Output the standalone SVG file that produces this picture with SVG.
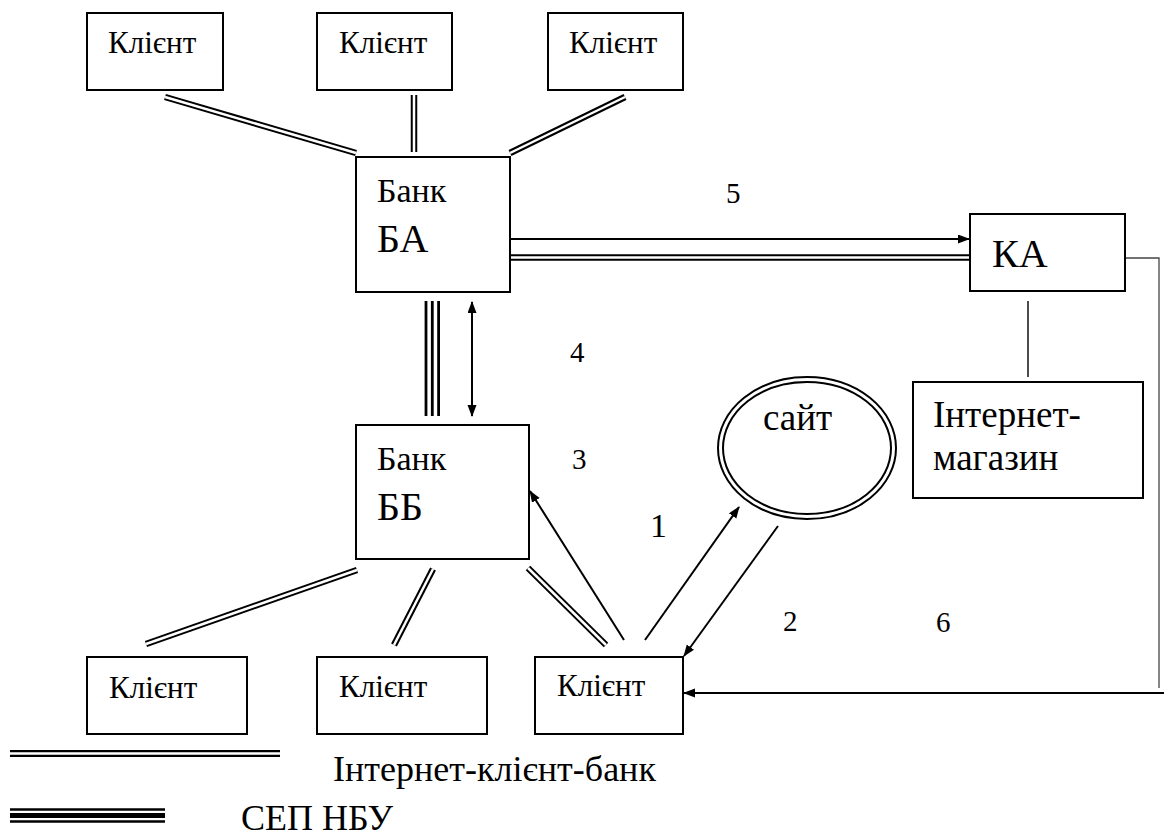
<svg xmlns="http://www.w3.org/2000/svg" width="1164" height="839" viewBox="0 0 1164 839" font-family="Liberation Serif, Tinos, DejaVu Serif, Noto Serif, serif">
<defs>
<marker id="ah" markerUnits="userSpaceOnUse" markerWidth="12" markerHeight="10" refX="11" refY="4.5" orient="auto-start-reverse">
<path d="M0,0 L12,4.5 L0,9 z" fill="#000"/>
</marker>
</defs>
<style>
.box{fill:#fff;stroke:#000;stroke-width:2}
.c{font-size:31px}
.dblk{stroke:#000;stroke-width:6.5;fill:none}
.dwht{stroke:#fff;stroke-width:2.5;fill:none}
.arr{stroke:#000;stroke-width:2;fill:none}
.thin{stroke:#444;stroke-width:1.3;fill:none}
.tri{stroke:#000;stroke-width:2.8}
.num{font-size:29px}
</style>
<rect width="1164" height="839" fill="#fff"/>
<g id="connectors">
<g id="dbl-black">
<line class="dblk" x1="165" y1="97" x2="356" y2="153"/>
<line class="dblk" x1="414" y1="95" x2="414" y2="152"/>
<line class="dblk" x1="625" y1="97" x2="510" y2="153"/>
<line class="dblk" x1="357" y1="570" x2="146" y2="644"/>
<line class="dblk" x1="433" y1="569" x2="394" y2="645"/>
<line class="dblk" x1="528" y1="568" x2="606" y2="645"/>
<line class="dblk" x1="510" y1="257.5" x2="970" y2="257.5"/>
</g>
<g id="dbl-white">
<line class="dwht" x1="165" y1="97" x2="356" y2="153"/>
<line class="dwht" x1="414" y1="95" x2="414" y2="152"/>
<line class="dwht" x1="625" y1="97" x2="510" y2="153"/>
<line class="dwht" x1="357" y1="570" x2="146" y2="644"/>
<line class="dwht" x1="433" y1="569" x2="394" y2="645"/>
<line class="dwht" x1="528" y1="568" x2="606" y2="645"/>
<line class="dwht" x1="508" y1="257.5" x2="972" y2="257.5"/>
</g>
<line class="tri" x1="426" y1="301" x2="426" y2="416"/>
<line class="tri" x1="432.3" y1="301" x2="432.3" y2="416"/>
<line class="tri" x1="438.6" y1="301" x2="438.6" y2="416"/>
<line class="arr" x1="510" y1="239" x2="969" y2="239" marker-end="url(#ah)"/>
<line class="arr" x1="472" y1="302" x2="472" y2="416" marker-start="url(#ah)" marker-end="url(#ah)"/>
<line class="arr" x1="624" y1="640" x2="530" y2="491" marker-end="url(#ah)"/>
<line class="arr" x1="645" y1="640" x2="739" y2="507" marker-end="url(#ah)"/>
<line class="arr" x1="778" y1="526" x2="684" y2="656" marker-end="url(#ah)"/>
<line class="arr" x1="1164" y1="693" x2="684" y2="693" marker-end="url(#ah)"/>
<line x1="1028" y1="301" x2="1028" y2="377" stroke="#111" stroke-width="1.5"/>
<polyline class="thin" points="1125,258 1159,258 1159,688"/>
</g>
<g id="client-top-1"><rect class="box" x="87" y="13" width="136" height="77"/><text class="c" x="108" y="53">Клієнт</text></g>
<g id="client-top-2"><rect class="box" x="317" y="13" width="135" height="77"/><text class="c" x="339" y="53">Клієнт</text></g>
<g id="client-top-3"><rect class="box" x="548" y="13" width="135" height="77"/><text class="c" x="569" y="53">Клієнт</text></g>
<g id="bank-ba"><rect class="box" x="356" y="157" width="154" height="135"/><text x="377" y="202" font-size="34">Банк</text><text x="377" y="252" font-size="40">БА</text></g>
<g id="ka"><rect class="box" x="970" y="214" width="155" height="77"/><text x="992" y="267" font-size="40">КА</text></g>
<g id="shop"><rect class="box" x="913" y="382" width="230" height="116"/><text x="933" y="427" font-size="37">Інтернет-</text><text x="933" y="470" font-size="37">магазин</text></g>
<g id="bank-bb"><rect class="box" x="356" y="425" width="173" height="134"/><text x="377" y="470" font-size="34">Банк</text><text x="377" y="520" font-size="40">ББ</text></g>
<g id="site"><ellipse cx="807" cy="448" rx="89" ry="71" fill="#fff" stroke="#000" stroke-width="2"/><ellipse cx="807" cy="448" rx="84" ry="66" fill="none" stroke="#000" stroke-width="2"/><text x="763" y="430" font-size="37">сайт</text></g>
<g id="client-bottom-1"><rect class="box" x="87" y="657" width="160" height="77"/><text class="c" x="109" y="698">Клієнт</text></g>
<g id="client-bottom-2"><rect class="box" x="317" y="657" width="170" height="77"/><text class="c" x="339" y="697">Клієнт</text></g>
<g id="client-bottom-3"><rect class="box" x="535" y="657" width="148" height="77"/><text class="c" x="557" y="696">Клієнт</text></g>
<g id="labels">
<text class="num" x="726" y="203">5</text>
<text class="num" x="570" y="362">4</text>
<text class="num" x="572" y="469">3</text>
<text x="650" y="537" font-size="34">1</text>
<text class="num" x="783" y="631">2</text>
<text class="num" x="936" y="632">6</text>
</g>
<g id="legend">
<line x1="10" y1="753.5" x2="280" y2="753.5" stroke="#000" stroke-width="7"/>
<line x1="8" y1="753.5" x2="282" y2="753.5" stroke="#fff" stroke-width="2.6"/>
<text x="333" y="781" font-size="36">Інтернет-клієнт-банк</text>
<line x1="10" y1="809.5" x2="165" y2="809.5" stroke="#000" stroke-width="2.4"/>
<line x1="10" y1="815.5" x2="165" y2="815.5" stroke="#000" stroke-width="5"/>
<line x1="10" y1="821.5" x2="165" y2="821.5" stroke="#000" stroke-width="2.4"/>
<text x="241" y="830" font-size="36">СЕП НБУ</text>
</g>
</svg>
